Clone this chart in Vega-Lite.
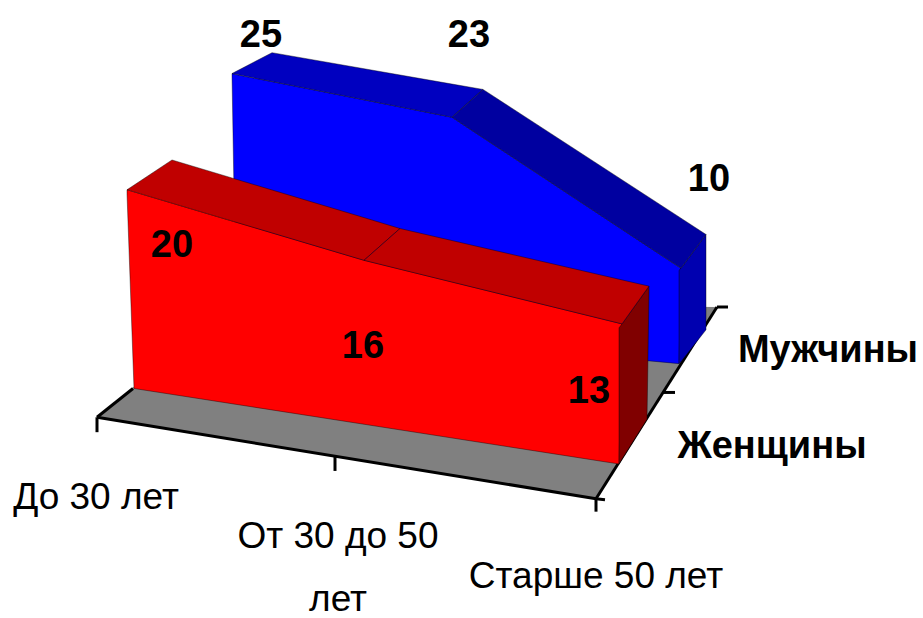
{
"$schema":"https://vega.github.io/schema/vega-lite/v6.json",
"width":923,"height":618,"padding":0,
"autosize":{"type":"fit","contains":"padding"},
"background":"white",
"view":{"stroke":null},
"datasets":{
"faces":[
{"face":"floor","pos":97,"upper":420,"lower":420},{"face":"floor","pos":235,"upper":305,"lower":442.7},{"face":"floor","pos":596,"upper":308,"lower":502},{"face":"floor","pos":717,"upper":309,"lower":309}
],
"solids":[
{"face":"blueFront","pos":232,"upper":74,"lower":76},{"face":"blueFront","pos":236,"upper":75,"lower":310},{"face":"blueFront","pos":452,"upper":118,"lower":336},{"face":"blueFront","pos":647,"upper":247.4,"lower":363},{"face":"blueFront","pos":679,"upper":268.7,"lower":366},{"face":"blueFront","pos":681,"upper":270,"lower":272},
{"face":"blueSide","pos":679,"upper":272,"lower":366},{"face":"blueSide","pos":681,"upper":270,"lower":364},{"face":"blueSide","pos":706,"upper":236,"lower":332},
{"face":"blueTop1","pos":232,"upper":74,"lower":74},{"face":"blueTop1","pos":272,"upper":53,"lower":82},{"face":"blueTop1","pos":452,"upper":84.6,"lower":118},{"face":"blueTop1","pos":483,"upper":90,"lower":90},
{"face":"blueTop2","pos":452,"upper":118,"lower":118},{"face":"blueTop2","pos":483,"upper":90,"lower":138.6},{"face":"blueTop2","pos":681,"upper":219.6,"lower":270},{"face":"blueTop2","pos":706,"upper":236,"lower":236},
{"face":"redFront","pos":127,"upper":191,"lower":195},{"face":"redFront","pos":134,"upper":193,"lower":391},{"face":"redFront","pos":364,"upper":262,"lower":427},{"face":"redFront","pos":619,"upper":325.3,"lower":467},{"face":"redFront","pos":622,"upper":326,"lower":330},
{"face":"redSide","pos":619,"upper":330,"lower":467},{"face":"redSide","pos":622,"upper":326,"lower":462},{"face":"redSide","pos":647,"upper":291,"lower":422},{"face":"redSide","pos":649,"upper":288,"lower":293},
{"face":"redTop1","pos":127,"upper":191,"lower":191},{"face":"redTop1","pos":172,"upper":161,"lower":204.5},{"face":"redTop1","pos":364,"upper":219,"lower":262},{"face":"redTop1","pos":400,"upper":230,"lower":230},
{"face":"redTop2","pos":364,"upper":262,"lower":262},{"face":"redTop2","pos":400,"upper":230,"lower":271},{"face":"redTop2","pos":622,"upper":281.7,"lower":326},{"face":"redTop2","pos":649,"upper":288,"lower":288}
],
"axes":[
{"id":"a","pos":133,"v":391},{"id":"a","pos":97,"v":420},
{"id":"b","pos":97,"v":420},{"id":"b","pos":596,"v":502},
{"id":"c","pos":596,"v":502},{"id":"c","pos":717,"v":309},
{"id":"t1","pos":97,"v":420},{"id":"t1","pos":97,"v":435},
{"id":"t2","pos":335,"v":460},{"id":"t2","pos":335,"v":474},
{"id":"t3","pos":596,"v":502},{"id":"t3","pos":596,"v":515},
{"id":"t4","pos":596,"v":502},{"id":"t4","pos":605,"v":503},
{"id":"t5","pos":663,"v":395},{"id":"t5","pos":675,"v":395},
{"id":"t6","pos":717,"v":309},{"id":"t6","pos":728,"v":309}
],
"values":[
{"label":"25","pos":261,"v":36},{"label":"23","pos":469,"v":36},{"label":"10","pos":709,"v":181},
{"label":"20","pos":172,"v":248},{"label":"16","pos":363,"v":349},{"label":"13","pos":589,"v":395}
],
"series":[
{"label":"Мужчины","pos":828,"v":353},{"label":"Женщины","pos":772,"v":450}
],
"categories":[
{"label":"До 30 лет","pos":96,"v":501},{"label":"От 30 до 50","pos":338,"v":541},{"label":"лет","pos":338,"v":604},{"label":"Старше 50 лет","pos":596,"v":581}
]
},
"encoding":{
"x":{"field":"pos","type":"quantitative","scale":{"domain":[0,923],"nice":false,"zero":false},"axis":null},
"y":{"field":"v","type":"quantitative","scale":{"domain":[618,0],"nice":false,"zero":false},"axis":null}
},
"layer":[
{"data":{"name":"faces"},"mark":{"type":"area","color":"#808080"},
"encoding":{"y":{"field":"upper","type":"quantitative","scale":{"domain":[618,0],"nice":false,"zero":false},"axis":null},"y2":{"field":"lower"}}},
{"data":{"name":"axes"},"mark":{"type":"line","color":"black","strokeWidth":3},"encoding":{"detail":{"field":"id"}}},
{"data":{"name":"solids"},"mark":{"type":"area","stroke":"#000000","strokeWidth":1,"strokeOpacity":0.4},
"encoding":{"y":{"field":"upper","type":"quantitative","scale":{"domain":[618,0],"nice":false,"zero":false},"axis":null},"y2":{"field":"lower"},
"color":{"field":"face","type":"nominal","legend":null,"sort":null,"scale":{"domain":["blueFront","blueSide","blueTop1","blueTop2","redFront","redSide","redTop1","redTop2"],"range":["#0000FF","#0000B0","#0000C0","#0000A0","#FF0000","#800000","#C00000","#C00000"]}}}},
{"data":{"name":"values"},"mark":{"type":"text","font":"Liberation Sans","fontWeight":"bold","fontSize":38,"color":"black","align":"center","baseline":"middle"},"encoding":{"text":{"field":"label"}}},
{"data":{"name":"series"},"mark":{"type":"text","font":"Liberation Sans","fontWeight":"bold","fontSize":38,"color":"black","align":"center","baseline":"middle"},"encoding":{"text":{"field":"label"}}},
{"data":{"name":"categories"},"mark":{"type":"text","font":"Liberation Sans","fontSize":37,"color":"black","align":"center","baseline":"middle"},"encoding":{"text":{"field":"label"}}}
]
}
